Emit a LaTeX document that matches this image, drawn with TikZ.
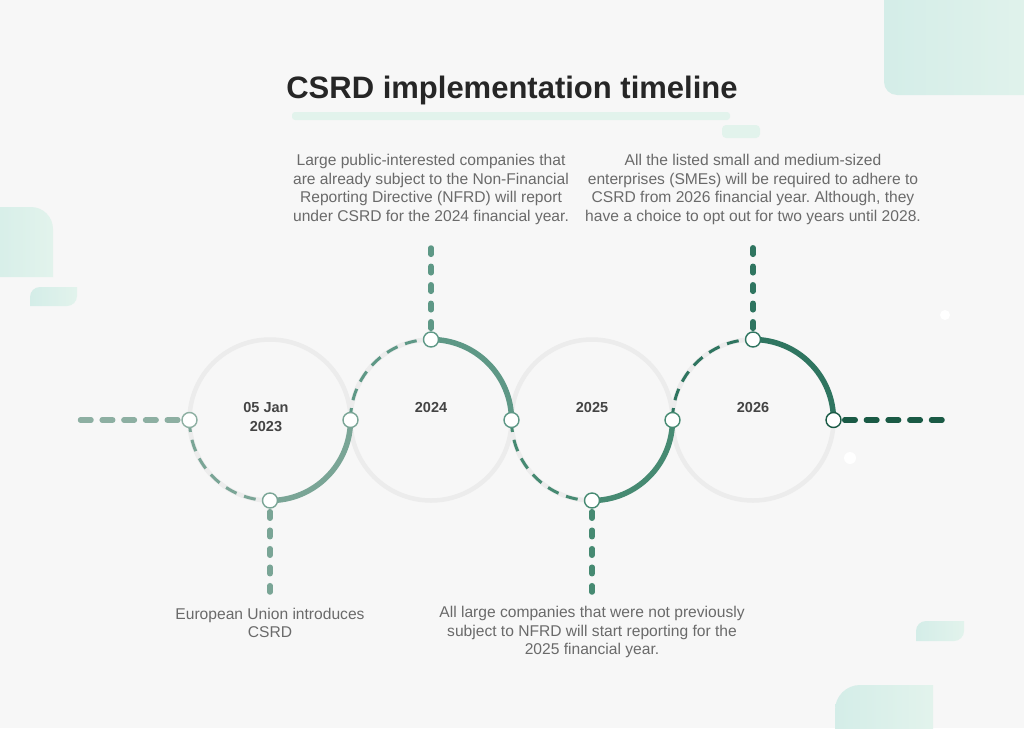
\documentclass[tikz,border=0pt]{standalone}
\usepackage{fontspec}
\setmainfont{Liberation Sans}
\usetikzlibrary{positioning}
\frenchspacing

\definecolor{bgcol}{HTML}{F7F7F7}
\definecolor{ringgrey}{HTML}{ECECEC}
\definecolor{minta}{HTML}{D4EDE8}
\definecolor{mintb}{HTML}{E2F3EC}
\definecolor{cA}{HTML}{8DAFA2}
\definecolor{cB}{HTML}{7AA596}
\definecolor{cC}{HTML}{5E9886}
\definecolor{cD}{HTML}{468A72}
\definecolor{cE}{HTML}{2F7560}
\definecolor{cF}{HTML}{1A5A45}
\definecolor{notegrey}{HTML}{6A6A6A}
\definecolor{titlecol}{HTML}{262626}
\definecolor{yeargrey}{HTML}{444444}

\begin{document}
\begin{tikzpicture}[x=1pt,y=1pt,
    ring/.style={draw=ringgrey, line width=4.5pt},
    ringdot/.style={circle, draw=#1, fill=white, line width=1.4pt, inner sep=0pt, minimum size=15pt},
    solidarc/.style={draw=#1, line width=5.5pt},
    dasharc/.style={draw=#1, line width=3pt, dash pattern=on 12pt off 8pt},
    stem/.style={draw=#1, line width=5.5pt, line cap=round, dash pattern=on 6.5pt off 12pt},
    hline/.style={draw=#1, line width=5.5pt, line cap=round, dash pattern=on 10.5pt off 11.2pt},
    note/.style={text=notegrey, font=\fontsize{15.6}{18.5}\selectfont, align=center},
    yearlabel/.style={text=yeargrey, font=\bfseries\fontsize{14.5}{18.5}\selectfont, align=center},
    blob/.style={left color=minta, right color=mintb, draw=none}]

    % page and background
    \useasboundingbox[fill=bgcol] (0,0) rectangle (1024,-728);

    % decoration
    \shade[blob, rounded corners=13pt] (884,30) -- (884,-95) -- (1050,-95) -- (1050,30) -- cycle;
    \shade[blob] (-20,-207) -- (31,-207) arc (90:0:22) -- (53,-277) -- (-20,-277) -- cycle;
    \shade[blob] (30,-306) -- (30,-297) arc (180:90:10) -- (77,-287) -- (77,-296) arc (0:-90:10) -- cycle;
    \shade[blob] (916,-641) -- (916,-631) arc (180:90:10) -- (964,-621) -- (964,-631) arc (0:-90:10) -- cycle;
    \shade[blob] (835,-740) -- (835,-710) arc (180:90:25) -- (933,-685) -- (933,-740) -- cycle;
    \fill[mintb, rounded corners=3pt] (292,-112) rectangle (730,-120);
    \fill[mintb, rounded corners=4pt] (722,-125) rectangle (760,-138);
    \fill[white] (945,-315) circle (5);
    \fill[white] (850,-458) circle (6);

    % title
    \node[text=titlecol, font=\bfseries\fontsize{31}{36}\selectfont] (title) at (512,-90) {CSRD implementation timeline};

    % grey rings
    \foreach \cx in {270,431,592,753}
        \draw[ring] (\cx,-420) circle (80.5);

    % points on the timeline
    \coordinate (p1l) at (189.5,-420);
    \coordinate (p1b) at (270,-500.5);
    \coordinate (p12) at (350.5,-420);
    \coordinate (p2t) at (431,-339.5);
    \coordinate (p23) at (511.5,-420);
    \coordinate (p3b) at (592,-500.5);
    \coordinate (p34) at (672.5,-420);
    \coordinate (p4t) at (753,-339.5);
    \coordinate (p4r) at (833.5,-420);

    % free ends
    \coordinate (startend) at (80.5,-420);
    \coordinate (stemA) at (270,-592);
    \coordinate (stemB) at (431,-248);
    \coordinate (stemC) at (592,-592);
    \coordinate (stemD) at (753,-242);
    \coordinate (finish) at (943,-420);

    % arcs
    \draw[dasharc=cB] (p1l) arc (180:270:80.5);
    \draw[solidarc=cB] (p1b) arc (270:360:80.5);
    \draw[dasharc=cC] (p12) arc (180:90:80.5);
    \draw[solidarc=cC] (p2t) arc (90:0:80.5);
    \draw[dasharc=cD] (p23) arc (180:270:80.5);
    \draw[solidarc=cD] (p3b) arc (270:360:80.5);
    \draw[dasharc=cE] (p34) arc (180:90:80.5);
    \draw[solidarc=cE] (p4t) arc (90:0:80.5);

    % dots
    \node[ringdot=cA] (d1l) at (p1l) {};
    \node[ringdot=cB] (d1b) at (p1b) {};
    \node[ringdot=cB] (d12) at (p12) {};
    \node[ringdot=cC] (d2t) at (p2t) {};
    \node[ringdot=cC] (d23) at (p23) {};
    \node[ringdot=cD] (d3b) at (p3b) {};
    \node[ringdot=cD] (d34) at (p34) {};
    \node[ringdot=cE] (d4t) at (p4t) {};
    \node[ringdot=cF] (d4r) at (p4r) {};

    % straight dashes
    \draw[hline=cA] (startend) -- (d1l);
    \draw[stem=cB] ([yshift=-3pt]d1b.south) -- (stemA);
    \draw[stem=cC] ([yshift=3pt]d2t.north) -- (stemB);
    \draw[stem=cD] ([yshift=-3pt]d3b.south) -- (stemC);
    \draw[stem=cE] ([yshift=3pt]d4t.north) -- (stemD);
    \draw[hline=cF] ([xshift=3pt]d4r.east) -- (finish);

    % years
    \node[yearlabel] (y1) at (266,-417) {05 Jan\\2023};
    \node[yearlabel] (y2) at (431,-408) {2024};
    \node[yearlabel] (y3) at (592,-408) {2025};
    \node[yearlabel] (y4) at (753,-408) {2026};

    % notes
    \node[note] (n1) at (270,-623) {European Union introduces\\CSRD};
    \node[note] (n2) at (431,-189.5) {Large public-interested companies that\\are already subject to the Non-Financial\\Reporting Directive (NFRD) will report\\under CSRD for the 2024 financial year.};
    \node[note] (n3) at (592,-632) {All large companies that were not previously\\subject to NFRD will start reporting for the\\2025 financial year.};
    \node[note] (n4) at (753,-189.5) {All the listed small and medium-sized\\enterprises (SMEs) will be required to adhere to\\CSRD from 2026 financial year. Although, they\\have a choice to opt out for two years until 2028.};
\end{tikzpicture}
\end{document}
